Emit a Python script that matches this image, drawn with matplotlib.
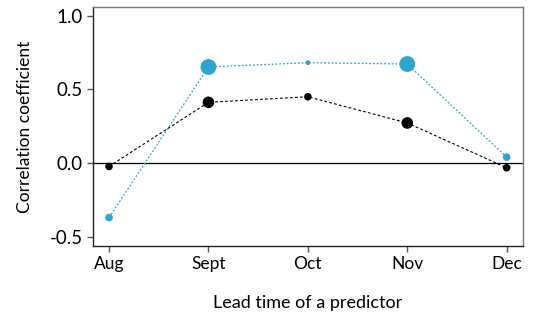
import numpy as np
import matplotlib.pyplot as plt

months = ["Aug", "Sept", "Oct", "Nov", "Dec"]
blue_vals = [-0.37, 0.652, 0.681, 0.672, 0.04]
blue_sizes = [30, 130, 12, 130, 30]
black_vals = [-0.023, 0.412, 0.45, 0.272, -0.032]
black_sizes = [30, 70, 30, 70, 30]

plt.rcParams['font.family'] = ['Lato', 'DejaVu Sans']

fig = plt.figure(figsize=(5.36, 3.14), dpi=100)
ax = fig.add_axes([93 / 536, 1 - 246 / 314, 430 / 536, 239 / 314])

x = np.arange(len(months))
blue = "#2ea5cf"
ax.axhline(0, color="black", lw=0.9, zorder=1)
ax.plot(x, blue_vals, ls=(0, (1.5, 1.5)), color=blue, lw=0.9, zorder=2)
ax.scatter(x, blue_vals, s=blue_sizes, color=blue, zorder=3, linewidths=0)
ax.plot(x, black_vals, ls=(0, (2.5, 2)), color="black", lw=0.8, zorder=2)
ax.scatter(x, black_vals, s=black_sizes, color="black", zorder=3, linewidths=0)

ax.set_xlim(-0.161, 4.164)
ax.set_ylim(-0.563, 1.059)
ax.set_xticks(x)
ax.set_xticklabels(months, fontsize=12.5)
ax.set_yticks([-0.5, 0.0, 0.5, 1.0])
ax.set_yticklabels(["-0.5", "0.0", "0.5", "1.0"], fontsize=13.5)
ax.tick_params(length=4, color="#555555", width=1)

for s in ["left", "bottom"]:
    ax.spines[s].set_color("#222222")
    ax.spines[s].set_linewidth(1.0)
for s in ["top", "right"]:
    ax.spines[s].set_color("#777777")
    ax.spines[s].set_linewidth(1.0)

ax.set_ylabel("Correlation coefficient", fontsize=12.5, labelpad=12)
ax.set_xlabel("Lead time of a predictor", fontsize=13, labelpad=16)

fig.savefig("out.png", dpi=100)
